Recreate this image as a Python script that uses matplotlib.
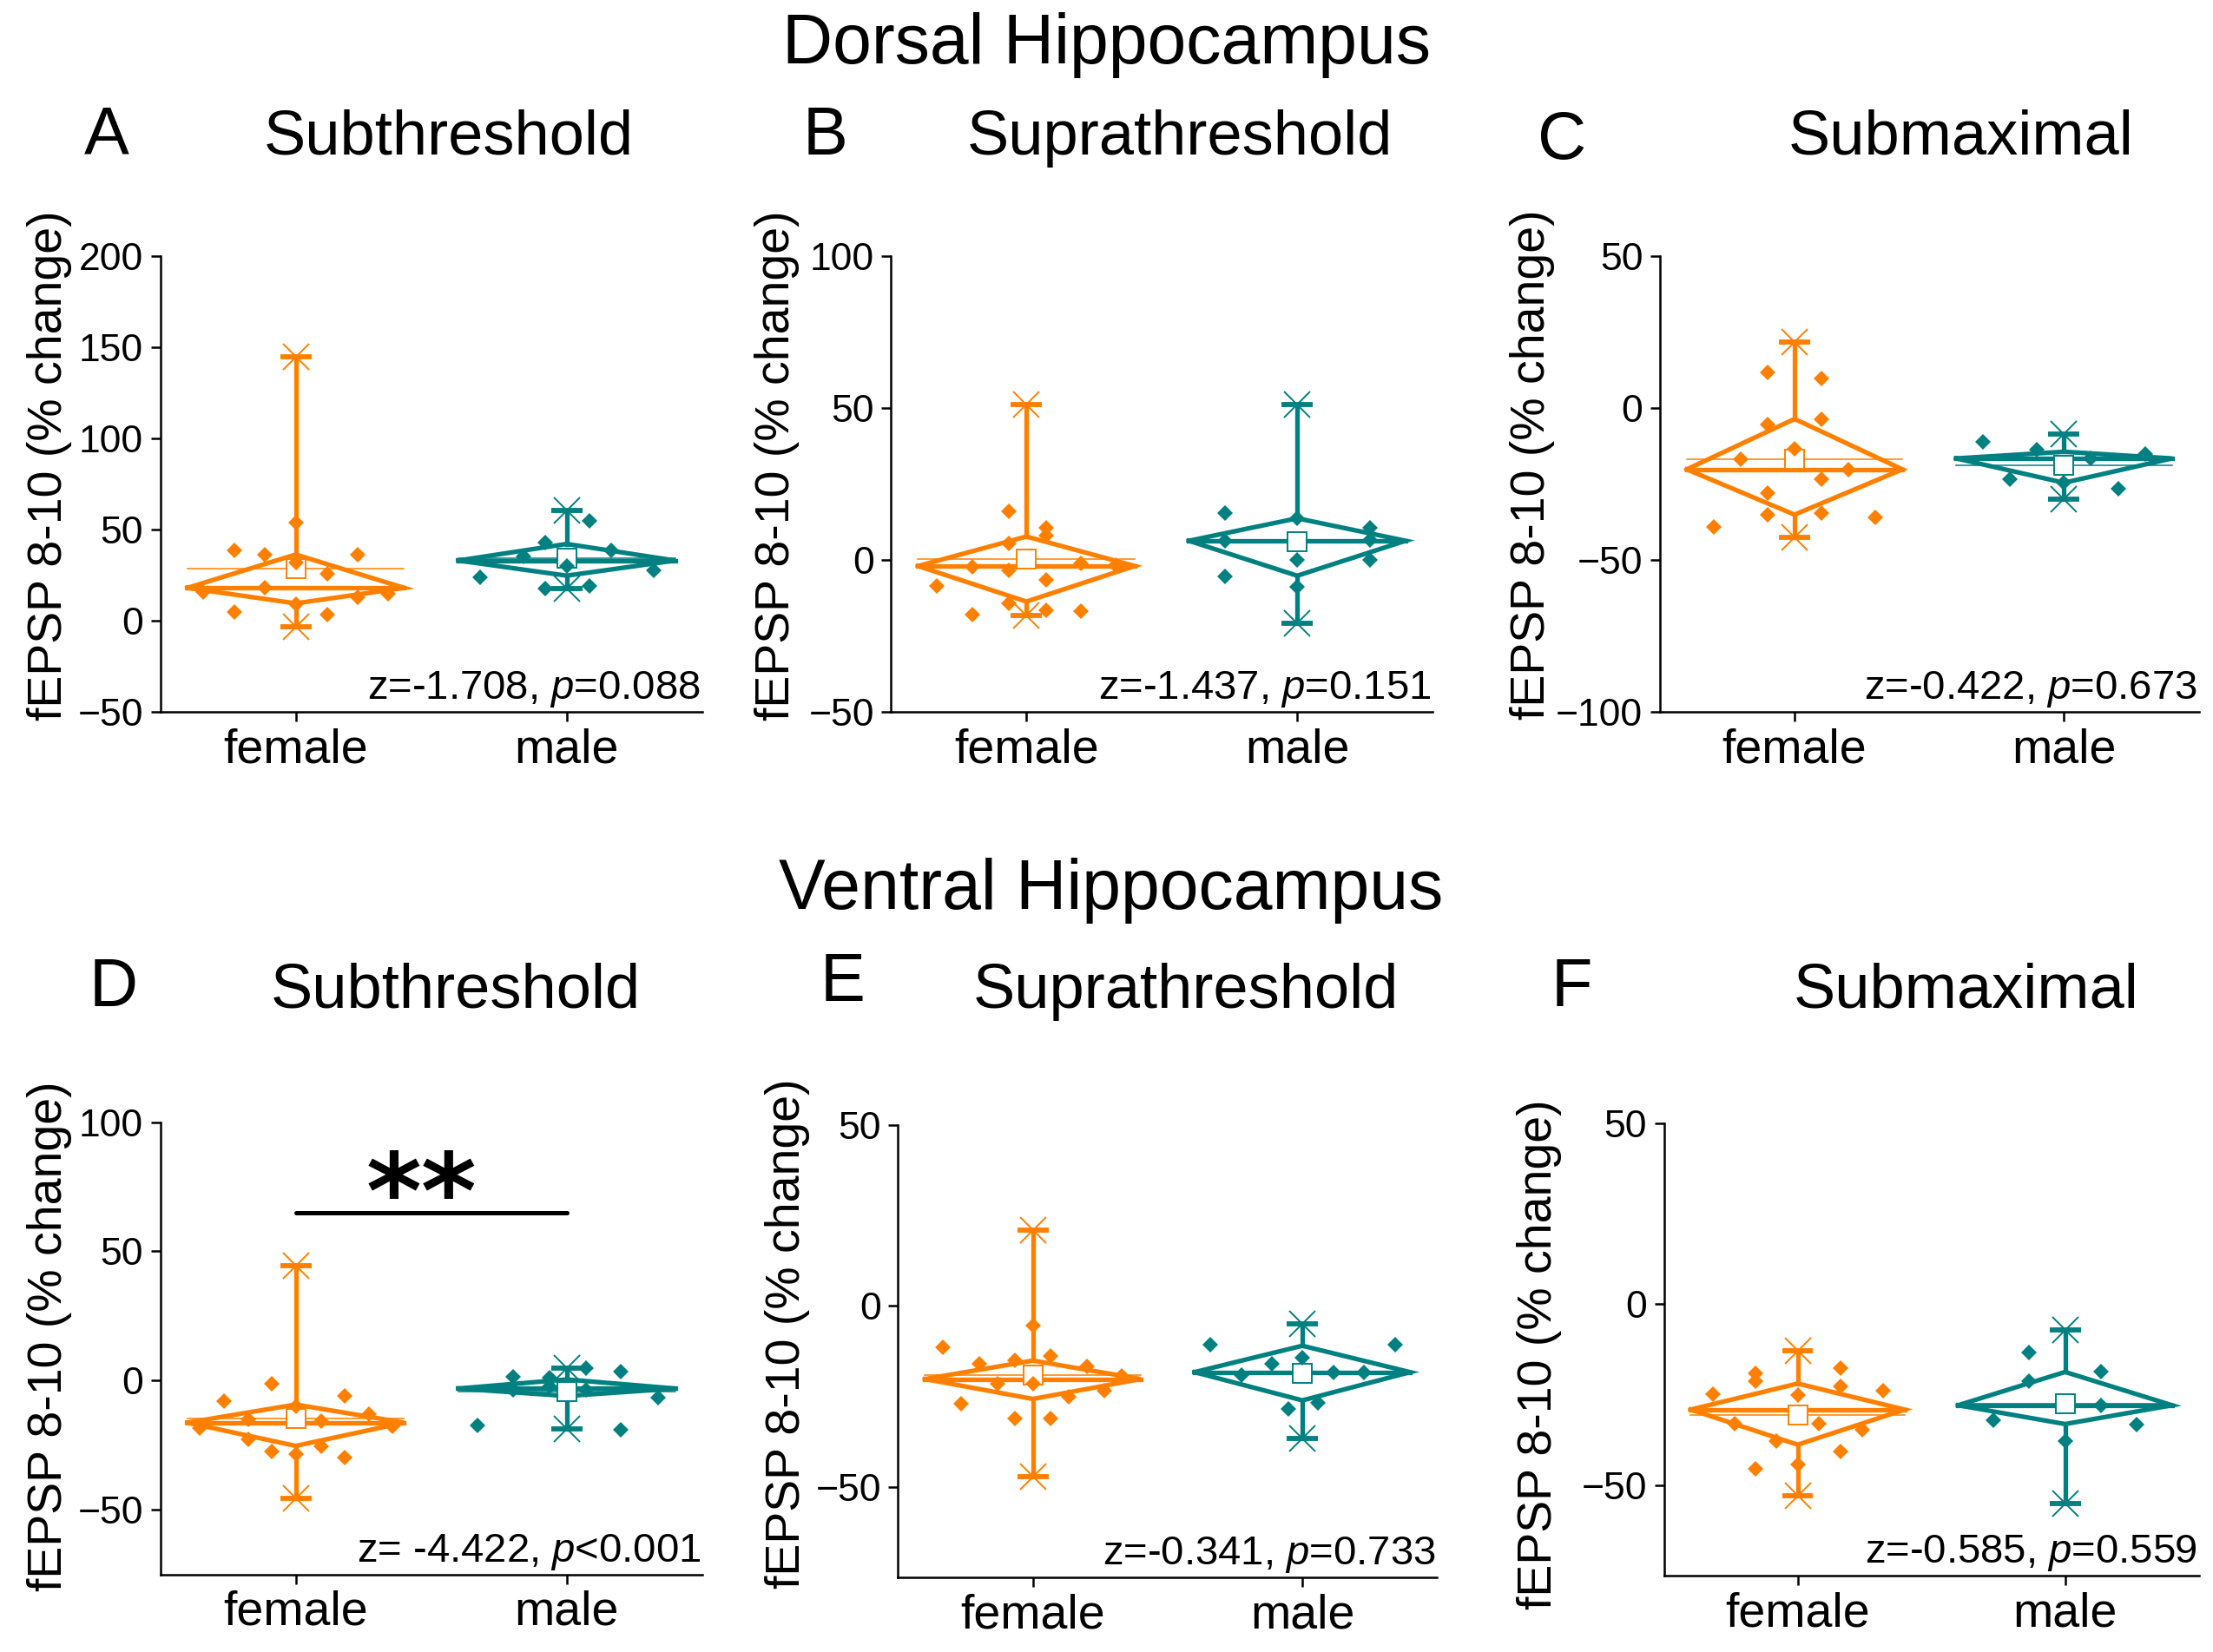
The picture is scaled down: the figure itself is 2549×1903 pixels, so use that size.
import numpy as np
import matplotlib
matplotlib.use("Agg")
import matplotlib.pyplot as plt

plt.rcParams['font.family'] = ['Liberation Sans', 'DejaVu Sans']
plt.rcParams['mathtext.fontset'] = 'custom'
plt.rcParams['mathtext.rm'] = 'Liberation Sans'
plt.rcParams['mathtext.it'] = 'Liberation Sans:italic'

ORANGE = '#ff8000'
TEAL = '#008080'

groups = ['female', 'male']
row_titles = ['Dorsal Hippocampus', 'Ventral Hippocampus']
panel_letters = ['A', 'B', 'C', 'D', 'E', 'F']
panel_titles = ['Subthreshold', 'Suprathreshold', 'Submaximal'] * 2
stat_texts = ['z=-1.708, $p$=0.088', 'z=-1.437, $p$=0.151', 'z=-0.422, $p$=0.673',
              'z= -4.422, $p$<0.001', 'z=-0.341, $p$=0.733', 'z=-0.585, $p$=0.559']
ylims = [(-50, 200), (-50, 100), (-100, 50), (-75, 100), (-75, 50), (-75, 50)]
yticks = [[-50, 0, 50, 100, 150, 200], [-50, 0, 50, 100], [-100, -50, 0, 50],
          [-50, 0, 50, 100], [-50, 0, 50], [-50, 0, 50]]

# summary per group: min, q1, median, q3, max, mean
a_f_stats = [-3.3, 9.5, 18.0, 36.3, 144.7, 28.6]
a_m_stats = [17.4, 24.7, 33.0, 42.1, 60.4, 34.2]
b_f_stats = [-18.4, -13.7, -2.0, 7.7, 51.1, 0.3]
b_m_stats = [-20.9, -5.2, 6.3, 13.7, 51.1, 6.0]
c_f_stats = [-42.6, -35.1, -20.2, -3.6, 21.7, -17.0]
c_m_stats = [-30.1, -24.6, -16.6, -14.4, -8.6, -19.0]
d_f_stats = [-45.6, -25.3, -16.3, -9.3, 44.3, -14.8]
d_m_stats = [-18.6, -6.0, -3.1, 0.4, 4.9, -4.3]
e_f_stats = [-47.1, -25.7, -20.2, -15.1, 20.9, -19.0]
e_m_stats = [-36.7, -26.1, -18.3, -11.0, -5.0, -18.7]
f_f_stats = [-52.8, -38.8, -29.1, -21.9, -12.8, -30.5]
f_m_stats = [-55.0, -33.1, -27.9, -18.7, -7.1, -27.5]

# individual values and their horizontal jitter (category units)
a_f_pts = [38.5, 36.3, 31.7, 36.1, 25.6, 54.0, 15.6, 17.9, 12.8, 14.7, 9.2, 4.6, 3.3]
a_f_jit = [-0.227, -0.114, 0.0, 0.23, 0.116, 0.0, -0.34, -0.114, 0.23, 0.34, 0.0, -0.227, 0.116]
a_m_pts = [54.9, 43.0, 38.5, 35.2, 30.2, 23.8, 27.5, 17.4, 19.2]
a_m_jit = [0.083, -0.08, 0.163, -0.158, 0.0, -0.318, 0.32, -0.078, 0.083]
b_f_pts = [15.9, 10.7, 8.0, 5.5, -2.2, -3.3, -1.1, -1.6, -8.6, -6.6, -14.3, -16.5, -16.8, -18.1]
b_f_jit = [-0.064, 0.072, 0.072, -0.064, -0.198, -0.064, 0.2, 0.33, -0.33, 0.072, -0.064, 0.072, 0.2, -0.198]
b_m_pts = [15.4, 13.7, 10.7, 6.3, 6.6, 0.0, 0.0, -5.5, -8.8]
b_m_jit = [-0.266, 0.0, 0.268, -0.266, 0.268, 0.0, 0.268, -0.266, 0.0]
c_f_pts = [11.6, 9.8, -5.3, -3.6, -13.3, -16.9, -20.2, -23.5, -28.1, -35.1, -34.5, -35.9, -39.1]
c_f_jit = [-0.1, 0.1, -0.1, 0.1, 0.0, -0.2, 0.2, 0.1, -0.1, -0.1, 0.1, 0.3, -0.3]
c_m_pts = [-11.1, -13.8, -15.2, -16.6, -23.5, -26.6, -24.6]
c_m_jit = [-0.3, -0.1, 0.3, 0.1, -0.2, 0.2, 0.0]
d_f_pts = [-1.2, -8.0, -6.0, -15.0, -15.7, -12.9, -9.9, -18.5, -17.6, -22.8, -27.3, -25.3, -28.5, -29.8]
d_f_jit = [-0.087, -0.265, 0.18, -0.176, 0.094, 0.27, 0.0, -0.354, 0.358, -0.176, -0.087, 0.094, 0.0, 0.18]
d_m_pts = [1.3, 1.0, 4.9, 3.3, -3.5, -2.2, -3.5, -6.7, -17.4, -18.9]
d_m_jit = [-0.198, -0.064, 0.07, 0.2, -0.198, -0.064, 0.07, 0.337, -0.33, 0.2]
e_f_pts = [-5.5, -11.5, -13.8, -15.1, -16.1, -16.8, -19.3, -21.6, -21.4, -23.4, -25.0, -27.1, -31.2, -31.2]
e_f_jit = [0.0, -0.334, 0.065, -0.065, -0.2, 0.2, 0.33, -0.13, 0.0, 0.266, 0.134, -0.266, -0.065, 0.065]
e_m_pts = [-10.7, -10.6, -14.4, -16.1, -19.0, -18.4, -18.4, -28.4, -26.9]
e_m_jit = [-0.341, 0.345, 0.0, -0.112, -0.226, 0.115, 0.23, -0.053, 0.058]
f_f_pts = [-19.2, -21.3, -17.6, -22.7, -24.9, -24.0, -25.1, -32.9, -33.1, -34.6, -37.9, -40.7, -44.2, -45.4]
f_f_jit = [-0.157, -0.157, 0.161, 0.161, -0.317, 0.319, 0.0, -0.236, 0.08, 0.24, -0.081, 0.161, 0.0, -0.157]
f_m_pts = [-13.3, -18.5, -21.3, -27.9, -32.0, -33.2, -37.7]
f_m_jit = [-0.134, 0.133, -0.134, 0.133, -0.267, 0.266, 0.0]

panels = [
    ((a_f_pts, a_f_jit, a_f_stats), (a_m_pts, a_m_jit, a_m_stats)),
    ((b_f_pts, b_f_jit, b_f_stats), (b_m_pts, b_m_jit, b_m_stats)),
    ((c_f_pts, c_f_jit, c_f_stats), (c_m_pts, c_m_jit, c_m_stats)),
    ((d_f_pts, d_f_jit, d_f_stats), (d_m_pts, d_m_jit, d_m_stats)),
    ((e_f_pts, e_f_jit, e_f_stats), (e_m_pts, e_m_jit, e_m_stats)),
    ((f_f_pts, f_f_jit, f_f_stats), (f_m_pts, f_m_jit, f_m_stats)),
]

# significance bar in panel D
sig_y = 65.0
sig_label = '**'


def draw_group(ax, x0, pts, jit, stats, color):
    """Diamond box: Q1-Q3 diamond, median line, mean line+square, min/max whiskers"""
    lo, q1, med, q3, hi, mean = stats
    hw = 0.4
    lw = 3.8
    ax.plot([x0 - hw, x0, x0 + hw, x0, x0 - hw], [med, q3, med, q1, med],
            color=color, lw=lw, solid_joinstyle='miter', zorder=3)
    ax.plot([x0 - hw, x0 + hw], [med, med], color=color, lw=lw, zorder=3)
    ax.plot([x0 - hw, x0 + hw], [mean, mean], color=color, lw=1.1, zorder=3)
    ax.plot([x0, x0], [q3, hi], color=color, lw=lw, zorder=3)
    ax.plot([x0, x0], [q1, lo], color=color, lw=lw, zorder=3)
    for v in (lo, hi):
        ax.plot([x0 - 0.058, x0 + 0.058], [v, v], color=color, lw=lw + 0.4,
                solid_capstyle='butt', zorder=4)
        ax.plot(x0, v, marker='x', ms=22, mew=1.4, color=color, zorder=4)
    ax.plot(x0, mean, marker='s', ms=16.5, mfc='white', mec=color, mew=1.4, zorder=4)
    ax.plot(x0 + np.array(jit), pts, 'D', ms=9.5, color=color, mew=0, zorder=5)


fig = plt.figure(figsize=(25.49, 19.03), dpi=100)

# axes rectangles in figure fractions [left, bottom, width, height]
rects = [
    [0.0724, 0.5691, 0.2449, 0.2759],
    [0.4026, 0.5691, 0.2448, 0.2759],
    [0.7500, 0.5691, 0.2436, 0.2759],
    [0.0724, 0.0470, 0.2449, 0.2738],
    [0.4058, 0.0452, 0.2436, 0.2738],
    [0.7519, 0.0462, 0.2417, 0.2738],
]
letter_pos = [(0.0481, 0.9065), (0.3731, 0.9065), (0.7058, 0.9036),
              (0.0514, 0.3908), (0.3808, 0.3942), (0.7103, 0.3908)]
title_pos = [(0.2026, 0.9065), (0.5333, 0.9065), (0.8859, 0.9065),
             (0.2058, 0.3900), (0.5359, 0.3900), (0.8885, 0.3900)]
ylabel_pos = [(0.0224, 0.7180), (0.3513, 0.7180), (0.6923, 0.7190),
              (0.0224, 0.1910), (0.3558, 0.1930), (0.6955, 0.1800)]

for i, rect in enumerate(rects):
    ax = fig.add_axes(rect)
    (fp, fj, fs), (mp, mj, ms_) = panels[i]
    draw_group(ax, 0, fp, fj, fs, ORANGE)
    draw_group(ax, 1, mp, mj, ms_, TEAL)
    ax.set_xlim(-0.5, 1.5)
    ax.set_ylim(*ylims[i])
    ax.set_yticks(yticks[i])
    ax.set_xticks([0, 1])
    ax.set_xticklabels(groups)
    for s in ('top', 'right'):
        ax.spines[s].set_visible(False)
    for s in ('left', 'bottom'):
        ax.spines[s].set_linewidth(1.8)
    ax.tick_params(axis='y', labelsize=32, length=8, width=1.8, pad=6)
    ax.tick_params(axis='x', labelsize=40, length=8, width=1.8, pad=5)
    ax.text(0.997, 0.028, stat_texts[i], transform=ax.transAxes,
            ha='right', va='baseline', fontsize=34)
    if i == 3:
        ax.plot([0, 1], [sig_y, sig_y], color='black', lw=3.6,
                solid_capstyle='round')
        ax.text(0.465, 59, sig_label, ha='center', va='baseline',
                fontsize=88, fontweight='bold', family='DejaVu Sans')
    fig.text(*letter_pos[i], panel_letters[i], ha='center', va='baseline', fontsize=56)
    fig.text(*title_pos[i], panel_titles[i], ha='center', va='baseline', fontsize=52)
    fig.text(*ylabel_pos[i], 'fEPSP 8-10 (% change)', rotation=90,
             ha='center', va='center', fontsize=40)

fig.text(0.5, 0.9614, row_titles[0], ha='center', va='baseline', fontsize=58)
fig.text(0.502, 0.4498, row_titles[1], ha='center', va='baseline', fontsize=58)

fig.savefig('out.png', dpi=100)
